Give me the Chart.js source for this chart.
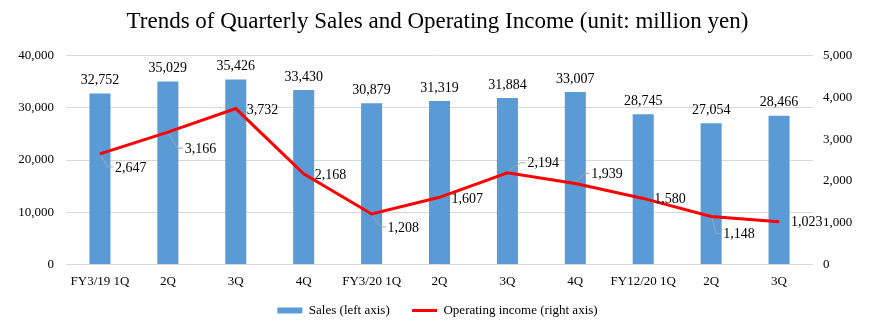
<!DOCTYPE html>
<html>
<head>
<meta charset="utf-8">
<script src="https://cdn.jsdelivr.net/npm/chart.js@4.4.0/dist/chart.umd.min.js"></script>
<style>
  html, body { margin: 0; padding: 0; background: #fff; }
  #wrap { width: 875px; height: 325px; }
</style>
</head>
<body>
<div id="wrap"><canvas id="myChart"></canvas></div>
<script>
// quarters on the x axis
const quarters = ['FY3/19 1Q', '2Q', '3Q', '4Q', 'FY3/20 1Q', '2Q', '3Q', '4Q', 'FY12/20 1Q', '2Q', '3Q'];
// sales, million yen (left axis)
const sales = [32752, 35029, 35426, 33430, 30879, 31319, 31884, 33007, 28745, 27054, 28466];
// operating income, million yen (right axis)
const operatingIncome = [2647, 3166, 3732, 2168, 1208, 1607, 2194, 1939, 1580, 1148, 1023];

// where each income label sits relative to its point: [dx, dy, leader line?]
const incomeLabelPos = [
    [15, 13, true], [17, 16, true], [11, 1, false], [11, 0, false], [16, 13, true],
    [12, 1, false], [20, -10, true], [16, -10, true], [11, 0, false], [12, 17, true], [12, 0, false]
];

const serif = "'Liberation Serif', 'Times New Roman', serif";
const fmt = v => v.toLocaleString('en-US');

// data labels: values above bars, income labels with grey leader lines
const labelsPlugin = {
    id: 'valueLabels',
    afterDatasetsDraw(chart) {
        const ctx = chart.ctx;
        const barMeta = chart.getDatasetMeta(1);
        const lineMeta = chart.getDatasetMeta(0);
        ctx.save();
        ctx.font = '14px ' + serif;
        ctx.fillStyle = '#000';
        ctx.textBaseline = 'middle';

        ctx.textAlign = 'center';
        barMeta.data.forEach((bar, i) => {
            ctx.fillText(fmt(sales[i]), bar.x, bar.y - 13);
        });

        ctx.textAlign = 'left';
        lineMeta.data.forEach((pt, i) => {
            const [dx, dy, leader] = incomeLabelPos[i];
            const lx = pt.x + dx, ly = pt.y + dy;
            if (leader) {
                ctx.strokeStyle = '#A6A6A6';
                ctx.lineWidth = 1;
                ctx.beginPath();
                ctx.moveTo(pt.x + 1, pt.y + (dy > 0 ? 2 : -2));
                ctx.lineTo(lx - 7, ly);
                ctx.lineTo(lx - 2, ly);
                ctx.stroke();
            }
            ctx.fillText(fmt(operatingIncome[i]), lx, ly + 1);
        });
        ctx.restore();
    }
};

Chart.defaults.font.family = serif;
Chart.defaults.color = '#000';

new Chart('myChart', {
    data: {
        labels: quarters,
        datasets: [{
            type: 'line',
            label: 'Operating income (right axis)',
            data: operatingIncome,
            yAxisID: 'y1',
            borderColor: '#FF0000',
            backgroundColor: '#FF0000',
            borderWidth: 3,
            pointRadius: 0,
            pointStyle: 'line',
            tension: 0,
            order: 1
        }, {
            type: 'bar',
            label: 'Sales (left axis)     ',
            data: sales,
            yAxisID: 'y',
            backgroundColor: '#5B9BD5',
            borderWidth: 0,
            pointStyle: 'rect',
            barPercentage: 0.31,
            categoryPercentage: 1.0,
            order: 2
        }]
    },
    options: {
        responsive: true,
        maintainAspectRatio: false,
        animation: false,
        layout: { padding: { left: 0, right: 0, top: 0, bottom: -2 } },
        plugins: {
            title: {
                display: true,
                text: 'Trends of Quarterly Sales and Operating Income (unit: million yen)',
                font: { size: 23, weight: 'normal', family: serif },
                color: '#000',
                padding: { top: 8, bottom: 20 }
            },
            legend: {
                position: 'bottom',
                reverse: true,
                labels: {
                    usePointStyle: true,
                    pointStyleWidth: 25,
                    boxHeight: 6,
                    padding: 6,
                    font: { size: 13, family: serif }
                }
            },
            tooltip: { enabled: false }
        },
        scales: {
            x: {
                grid: { display: false, drawTicks: false },
                border: { display: false },
                ticks: { font: { size: 13 }, padding: 9, maxRotation: 0, autoSkip: false }
            },
            y: {
                position: 'left',
                min: 0, max: 40000,
                ticks: { stepSize: 10000, font: { size: 13 }, padding: 12, callback: v => fmt(v) },
                grid: { color: '#D9D9D9', drawTicks: false },
                border: { display: false },
                afterFit(s) { s.width = 66; }
            },
            y1: {
                position: 'right',
                min: 0, max: 5000,
                ticks: { stepSize: 1000, font: { size: 13 }, padding: 10, callback: v => fmt(v) },
                grid: { display: false, drawTicks: false },
                border: { display: false },
                afterFit(s) { s.width = 62; }
            }
        }
    },
    plugins: [labelsPlugin]
});
</script>
</body>
</html>
